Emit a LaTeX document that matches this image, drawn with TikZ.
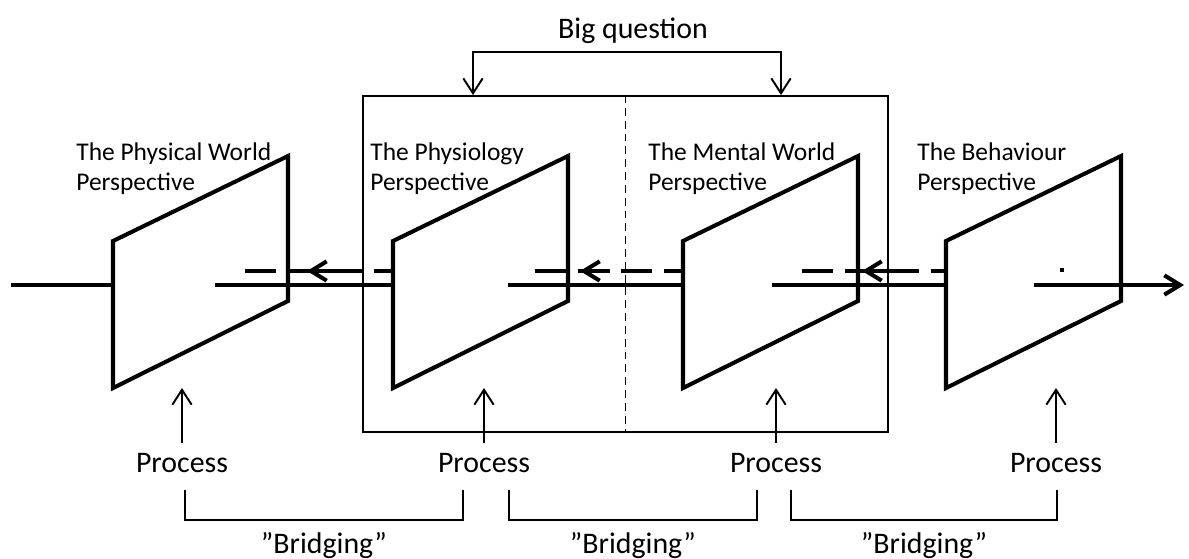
\documentclass[tikz,border=0pt]{standalone}
\usepackage{fontspec}
\setmainfont{Carlito}
\usetikzlibrary{arrows.meta}
\tikzset{
  pane/.style={line width=2.3pt},
  flow/.style={line width=2.3pt},
  back/.style={line width=2.3pt, dash pattern=on 17.6pt off 6.8pt},
  backtip/.style={line width=2.3pt, -{Straight Barb[length=9pt,width=11pt]}},
  frame/.style={draw, line width=1.1pt, inner sep=0pt, minimum width=10.5cm, minimum height=6.72cm},
  divider/.style={line width=0.9pt, dash pattern=on 4.5pt off 2.8pt},
  pointer/.style={line width=1.1pt, -{Straight Barb[length=8.5pt,width=11pt]}},
  fork/.style={line width=1.1pt, {Straight Barb[length=8.5pt,width=11pt]}-{Straight Barb[length=8.5pt,width=11pt]}},
  span/.style={line width=1.3pt},
  persp/.style={font=\fontsize{14.5}{17}\selectfont, align=left, anchor=base west, inner sep=0pt},
  lbl/.style={font=\fontsize{17}{20}\selectfont, anchor=base, inner sep=0pt}
}

\begin{document}
\begin{tikzpicture}[x=0.02cm, y=-0.02cm]
  \useasboundingbox (0,0) rectangle (1189,558);
  % the four perspective planes
  \foreach \n/\x in {pa/113, pb/393, pc/683, pd/946}{
    \draw[pane] (\x,241) -- (\x,388) -- ++(175,-87) -- ++(0,-145) -- cycle;
    \coordinate (\n-in) at (\x,285);
    \coordinate (\n-back) at (\x,271);
    \coordinate (\n-low) at (\x,388);
  }
  % (base of a two-line node sits on its last line)
  \node[persp] (ta) at (76,190) {The Physical World\\Perspective};
  \node[persp] (tb) at (370,190) {The Physiology\\Perspective};
  \node[persp] (tc) at (648,190) {The Mental World\\Perspective};
  \node[persp] (td) at (917,190) {The Behaviour\\Perspective};
  % forward line through the planes
  \draw[flow] (11,285) -- (pa-in);
  \draw[flow] (215,285) -- (pb-in);
  \draw[flow] (508,285) -- (pc-in);
  \draw[flow] (772,285) -- (pd-in);
  \draw[flow, -{Straight Barb[length=9pt,width=11pt]}] (1034,285) -- (1184,285);
  \fill (1060,268) rectangle (1064,272);
  % dashed way back
  \draw[back] (245,271) -- (pb-back);
  \draw[backtip] (337,271) -- (307,271);
  \draw[back] (535,271) -- (pc-back);
  \draw[backtip] (610,271) -- (580,271);
  \draw[back] (802,271) -- (pd-back);
  \draw[backtip] (892,271) -- (862,271);
  % middle frame
  \node[frame] (box) at (625.5,264) {};
  \draw[divider] (box.north) -- (box.south);
  \node[lbl] (bq) at (633,38) {Big question};
  \coordinate (qa) at (473,52);
  \coordinate (qb) at (781,52);
  \draw[fork] (qa |- box.north) -- (qa) -- (qb) -- (qb |- box.north);
  % processes and bridges
  \node[lbl] (p1) at (182,472) {Process};
  \node[lbl] (p2) at (484,472) {Process};
  \node[lbl] (p3) at (776,472) {Process};
  \node[lbl] (p4) at (1056,472) {Process};
  \draw[pointer] ([yshift=5.5pt]p1.north) -- (p1.north |- pa-low);
  \draw[pointer] ([yshift=5.5pt]p2.north) -- (p2.north |- pb-low);
  \draw[pointer] ([yshift=5.5pt]p3.north) -- (p3.north |- pc-low);
  \draw[pointer] ([yshift=5.5pt]p4.north) -- (p4.north |- pd-low);
  \draw[span] (185,490) |- (463,520) -- (463,490);
  \draw[span] (509,490) |- (757,520) -- (757,490);
  \draw[span] (791,490) |- (1057,520) -- (1057,490);
  \node[lbl] (b1) at (324,553) {”Bridging”};
  \node[lbl] (b2) at (633,553) {”Bridging”};
  \node[lbl] (b3) at (924,553) {”Bridging”};
\end{tikzpicture}
\end{document}
